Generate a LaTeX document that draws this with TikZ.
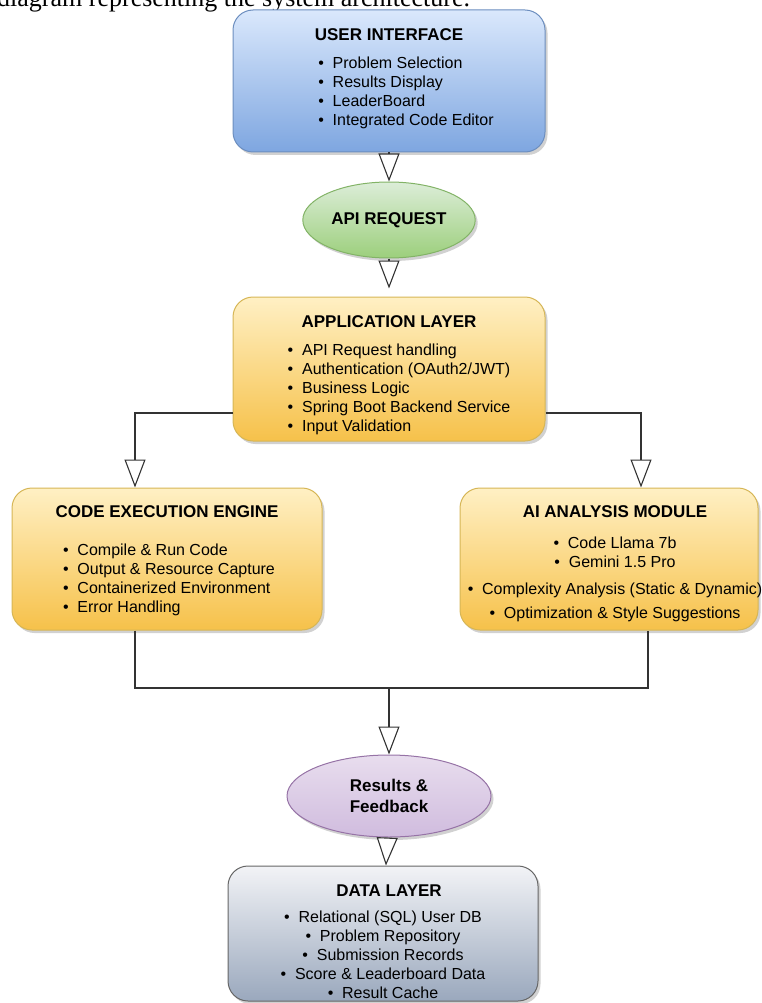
\documentclass[tikz,border=0pt]{standalone}
\usepackage{fontspec}
\setmainfont{Liberation Sans}
\newfontfamily\capfont{Liberation Serif}
\usepackage{xcolor}
\usetikzlibrary{shapes.geometric,arrows.meta,positioning,shadows}

\definecolor{uitop}{HTML}{DAE8FC}
\definecolor{uibot}{HTML}{7EA6E0}
\definecolor{uiedge}{HTML}{6C8EBF}
\definecolor{yltop}{HTML}{FFF0C4}
\definecolor{ylbot}{HTML}{F6C14A}
\definecolor{yledge}{HTML}{D6B656}
\definecolor{grtop}{HTML}{DCEDD8}
\definecolor{grbot}{HTML}{9CCF7C}
\definecolor{gredge}{HTML}{82B366}
\definecolor{pptop}{HTML}{E8DDEE}
\definecolor{ppbot}{HTML}{D0BCDE}
\definecolor{ppedge}{HTML}{9673A6}
\definecolor{dbtop}{HTML}{F2F3F6}
\definecolor{dbbot}{HTML}{9AA8BD}
\definecolor{dbedge}{HTML}{666666}
\definecolor{linec}{HTML}{333333}

\newcommand{\ttlfont}{\fontsize{17}{20}\selectfont\bfseries}
\newcommand{\itmfont}{\fontsize{16}{19}\selectfont}
\newcommand{\itm}{\textbullet\hspace{0.55em}}

\begin{document}
\begin{tikzpicture}[
  x=1pt, y=-1pt,
  layer/.style={rectangle, rounded corners=20pt, line width=1pt,
                drop shadow={shadow xshift=2.5pt, shadow yshift=-3pt, opacity=0.3, fill=black!60}},
  uibox/.style={layer, draw=uiedge, top color=uitop, bottom color=uibot},
  ylbox/.style={layer, draw=yledge, top color=yltop, bottom color=ylbot},
  dbbox/.style={layer, draw=dbedge, top color=dbtop, bottom color=dbbot},
  oval/.style={ellipse, line width=1pt, font=\ttlfont, align=center,
               drop shadow={shadow xshift=2.5pt, shadow yshift=-3pt, opacity=0.3, fill=black!60}},
  ttl/.style={font=\ttlfont, inner sep=0pt},
  items/.style={font=\itmfont, inner sep=0pt},
  arr/.style={-{Triangle[open, fill=white, length=28pt, width=21pt]}, line width=1.1pt, draw=linec},
  link/.style={line width=1.1pt, draw=linec}
]
\useasboundingbox (0,0) rectangle (761,1003);

% caption line cut at the top
\node[font=\capfont\fontsize{26}{30}\selectfont, anchor=base west, inner sep=0pt]
  (caption) at (-3,7) {diagram representing the system architecture.};

% layers
\node[uibox, minimum width=312pt, minimum height=142pt] (ui)   at (389,81)  {};
\node[oval, draw=gredge, top color=grtop, bottom color=grbot,
      minimum width=152pt, minimum height=76pt]          (api)  at (389,220) {API REQUEST};
\node[ylbox, minimum width=312pt, minimum height=144pt] (app)  at (389,369) {};
\node[ylbox, minimum width=310pt, minimum height=142pt] (cee)  at (167,559) {};
\node[ylbox, minimum width=298pt, minimum height=142pt] (ai)   at (609,559) {};
\node[oval, draw=ppedge, top color=pptop, bottom color=ppbot,
      minimum width=204pt, minimum height=82pt,
      font=\fontsize{17}{21}\selectfont\bfseries]        (res)  at (389,796) {Results \&\\Feedback};
\node[dbbox, minimum width=310pt, minimum height=135pt] (data) at (383,933.5) {};

% texts in the layers
\node[ttl, below=19pt of ui.north] (ui-title) {USER INTERFACE};
\node[items, align=left, below=16pt of ui-title, xshift=17pt] (ui-items)
  {\itm Problem Selection\\ \itm Results Display\\ \itm LeaderBoard\\ \itm Integrated Code Editor};

\node[ttl, below=19pt of app.north] (app-title) {APPLICATION LAYER};
\node[items, align=left, below=16pt of app-title, xshift=10pt] (app-items)
  {\itm API Request handling\\ \itm Authentication (OAuth2/JWT)\\ \itm Business Logic\\
   \itm Spring Boot Backend Service\\ \itm Input Validation};

\node[ttl, below=18pt of cee.north] (cee-title) {CODE EXECUTION ENGINE};
\node[items, align=left, below=26pt of cee-title, xshift=2pt] (cee-items)
  {\itm Compile \& Run Code\\ \itm Output \& Resource Capture\\ \itm Containerized Environment\\
   \itm Error Handling};

\node[ttl, below=18pt of ai.north, xshift=6pt] (ai-title) {AI ANALYSIS MODULE};
\node[items, align=center, below=19pt of ai-title] (ai-items)
  {\itm Code Llama 7b\\ \itm Gemini 1.5 Pro\\[8pt] \itm Complexity Analysis (Static \& Dynamic)\\[5pt]
   \itm Optimization \& Style Suggestions};

\node[ttl, below=19pt of data.north, xshift=6pt] (data-title) {DATA LAYER};
\node[items, align=center, below=14pt of data-title, xshift=-6pt] (data-items)
  {\itm Relational (SQL) User DB\\ \itm Problem Repository\\ \itm Submission Records\\
   \itm Score \& Leaderboard Data\\ \itm Result Cache};

% connectors
\coordinate (app-l) at ([yshift=-44pt]app.west);
\coordinate (app-r) at ([yshift=-44pt]app.east);
\coordinate (merge) at (389,688);

\draw[arr] (ui) -- (api);
\draw[arr, shorten >=8pt] (api) -- (app);
\draw[arr] (app-l) -| ([xshift=-32pt]cee.north);
\draw[arr] (app-r) -| ([xshift=32pt]ai.north);
\draw[link] ([xshift=-32pt]cee.south) |- (merge) -| ([xshift=39pt]ai.south);
\draw[arr] (merge) -- (res);
\draw[arr] (res) -- (data);
\end{tikzpicture}
\end{document}
